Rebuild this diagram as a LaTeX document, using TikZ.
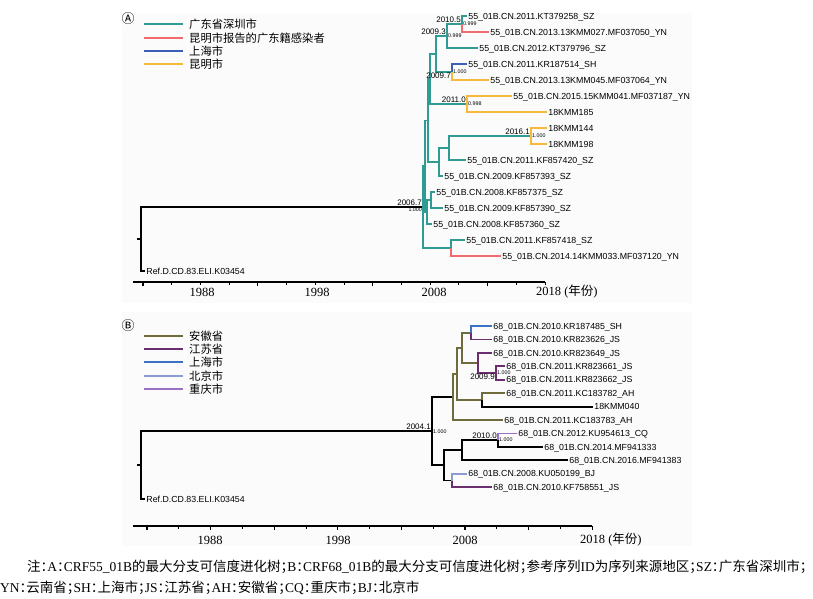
\documentclass[tikz,border=0pt]{standalone}
\usepackage{fontspec}
\setmainfont{Liberation Serif}
\setsansfont{Liberation Sans}
\newfontfamily\cjk{Noto Sans CJK SC}
\newfontfamily\cjkcap[RawFeature=+halt]{Noto Sans CJK SC}
\usetikzlibrary{positioning}
\newcommand{\zhtext}[1]{{\cjkcap #1}}
\definecolor{gdteal}{HTML}{2F9C94}
\definecolor{kmred}{HTML}{F06A6E}
\definecolor{shblue}{HTML}{3A5FB5}
\definecolor{kmyellow}{HTML}{F6B93B}
\definecolor{ahol}{HTML}{6E6B3C}
\definecolor{jspurple}{HTML}{6B2F6F}
\definecolor{shblueb}{HTML}{3C72C4}
\definecolor{bjlav}{HTML}{8E9BD2}
\definecolor{cqviolet}{HTML}{9A70C2}
\definecolor{panelbg}{HTML}{FBFBFB}
\tikzstyle{taxon}=[anchor=west,inner sep=1.2pt,text height=6.3pt,text depth=0pt,font=\fontsize{8.8}{9}\sffamily]
\tikzstyle{inner}=[coordinate]
\tikzstyle{branch}=[draw,line width=1.8pt]
\tikzstyle{date}=[inner sep=0pt,outer sep=1.2pt,font=\fontsize{8}{9}\sffamily]
\tikzstyle{prob}=[inner sep=0pt,outer sep=1.2pt,font=\fontsize{5.3}{6}\sffamily]
\tikzstyle{year}=[inner sep=0pt,font=\fontsize{12.5}{13}\selectfont]
\tikzstyle{legendtext}=[anchor=west,inner sep=0pt,font=\fontsize{11.3}{12}\cjk]
\tikzstyle{swatch}=[line width=2.6pt]
\tikzstyle{axis}=[line width=1.3pt]
\tikzstyle{note}=[anchor=west,inner sep=0pt,font=\fontsize{13.5}{14}\selectfont]

\begin{document}
\begin{tikzpicture}[x=1pt,y=-1pt]
    \useasboundingbox (0,0) rectangle (813,598);
    \fill[panelbg] (122,13) rectangle (692,303);
    \fill[panelbg] (122,312) rectangle (692,546);

    % Legends
    \node[font=\fontsize{13}{13}\cjk,inner sep=0pt] (markA) at (128,19) {Ⓐ};
    \foreach \y/\col/\txt [count=\i] in {24/gdteal/广东省深圳市, 38/kmred/昆明市报告的广东籍感染者, 51/shblue/上海市, 64/kmyellow/昆明市} {
        \node[legendtext] (keyA\i) at (189,\y) {\txt};
        \draw[swatch,\col] ([xshift=-6pt]keyA\i.west) -- ++(-39,0);
    }
    \node[font=\fontsize{13}{13}\cjk,inner sep=0pt] (markB) at (128,326) {Ⓑ};
    \foreach \y/\col/\txt [count=\i] in {336/ahol/安徽省, 349/jspurple/江苏省, 362/shblueb/上海市, 376/bjlav/北京市, 389/cqviolet/重庆市} {
        \node[legendtext] (keyB\i) at (189,\y) {\txt};
        \draw[swatch,\col] ([xshift=-6pt]keyB\i.west) -- ++(-39,0);
    }

    % Tree A: tips
    \foreach \name/\x/\y/\txt in {a1/467/16/55\_01B.CN.2011.KT379258\_SZ, a2/489/32/55\_01B.CN.2013.13KMM027.MF037050\_YN, a3/478/48/55\_01B.CN.2012.KT379796\_SZ, a4/467/64/55\_01B.CN.2011.KR187514\_SH, a5/489/80/55\_01B.CN.2013.13KMM045.MF037064\_YN, a6/512/96/55\_01B.CN.2015.15KMM041.MF037187\_YN, a7/547/112/18KMM185, a8/547/128/18KMM144, a9/547/144/18KMM198, a10/466/160/55\_01B.CN.2011.KF857420\_SZ, a11/443/176/55\_01B.CN.2009.KF857393\_SZ, a12/435/192/55\_01B.CN.2008.KF857375\_SZ, a13/443/208/55\_01B.CN.2009.KF857390\_SZ, a14/432/224/55\_01B.CN.2008.KF857360\_SZ, a15/465/240/55\_01B.CN.2011.KF857418\_SZ, a16/501/256/55\_01B.CN.2014.14KMM033.MF037120\_YN, refA/145/271/Ref.D.CD.83.ELI.K03454}
        \node[taxon] (\name) at (\x,\y) {\txt};

    % Tree A: inner nodes
    \foreach \pos/\name in {{(141,239)/rootA}, {(423,207)/r0}, {(462,24)/n1}, {(447,36)/n2}, {(452,72)/n3}, {(436,54)/n4}, {(467,104)/n5}, {(430,79)/n6}, {(531,136)/n7}, {(449,148)/n8}, {(439,162)/n9}, {(428,120.5)/n10}, {(431,200)/n11}, {(425,166)/n12}, {(427,212)/n13}, {(451,248)/n14}}
        \node[inner] (\name) at \pos {};

    % Tree A: branches
    \foreach \source/\dest/\col in {rootA/r0/black, rootA/refA.west/black, r0/n12/gdteal, r0/n14/gdteal, n12/n10/gdteal, n12/n13/gdteal, n10/n6/gdteal, n10/n9/gdteal, n6/n4/gdteal, n6/n5/gdteal, n4/n2/gdteal, n4/n3/gdteal, n2/n1/gdteal, n2/a3.west/gdteal, n1/a1.west/gdteal, n1/a2.west/kmred, n3/a4.west/shblue, n3/a5.west/kmyellow, n5/a6.west/kmyellow, n5/a7.west/kmyellow, n9/n8/gdteal, n9/a11.west/gdteal, n8/n7/gdteal, n8/a10.west/gdteal, n7/a8.west/kmyellow, n7/a9.west/kmyellow, n13/n11/gdteal, n13/a14.west/gdteal, n11/a12.west/gdteal, n11/a13.west/gdteal, n14/a15.west/gdteal, n14/a16.west/kmred}
        \path[branch,draw=\col] (\source) |- (\dest);
    \path[branch] (rootA) -- ++(-4,0);

    % Tree A: dates and posteriors
    \foreach \at/\yr/\side/\pp/\pside in {n1/2010.5/south east/0.999/west, n2/2009.3/south east/0.999/west, n3/2009.7/north east/1.000/west, n5/2011.0/south east/0.998/west, n7/2016.1/south east/1.000/west, r0/2006.7/south east/1.000/north east} {
        \node[date,anchor=\side] (yr\at) at (\at) {\yr};
        \node[prob,anchor=\pside] (pp\at) at (\at) {\pp};
    }

    % Tree B: tips
    \foreach \name/\x/\y/\txt in {b1/492/326/68\_01B.CN.2010.KR187485\_SH, b2/492/339.4/68\_01B.CN.2010.KR823626\_JS, b3/492/352.9/68\_01B.CN.2010.KR823649\_JS, b4/505/366.3/68\_01B.CN.2011.KR823661\_JS, b5/505/379.7/68\_01B.CN.2011.KR823662\_JS, b6/505/393.2/68\_01B.CN.2011.KC183782\_AH, b7/593/406.6/18KMM040, b8/503/420/68\_01B.CN.2011.KC183783\_AH, b9/517/433.4/68\_01B.CN.2012.KU954613\_CQ, b10/543/446.9/68\_01B.CN.2014.MF941333, b11/568/460.3/68\_01B.CN.2016.MF941383, b12/467/473.7/68\_01B.CN.2008.KU050199\_BJ, b13/492/487.2/68\_01B.CN.2010.KF758551\_JS, refB/145/499/Ref.D.CD.83.ELI.K03454}
        \node[taxon] (\name) at (\x,\y) {\txt};

    % Tree B: inner nodes
    \foreach \pos/\name in {{(141,465)/rootB}, {(432,431.2)/q0}, {(471,332.7)/p1}, {(478,363)/p2}, {(496,373)/p3}, {(462,347.9)/p4}, {(482,399.9)/p5}, {(457,373.9)/p6}, {(453,397)/p7}, {(462,450.2)/p9}, {(498,440.1)/p10}, {(444,465.3)/p11}, {(452,480.5)/p12}}
        \node[inner] (\name) at \pos {};

    % Tree B: branches
    \foreach \source/\dest/\col in {rootB/q0/black, rootB/refB.west/black, q0/p7/black, q0/p11/black, p7/p6/ahol, p7/b8.west/ahol, p6/p4/ahol, p6/p5/ahol, p4/p1/ahol, p4/p2/ahol, p1/b1.west/shblueb, p1/b2.west/jspurple, p2/b3.west/jspurple, p2/p3/jspurple, p3/b4.west/jspurple, p3/b5.west/jspurple, p5/b6.west/ahol, p5/b7.west/black, p11/p9/black, p11/p12/black, p9/p10/black, p9/b11.west/black, p10/b9.west/cqviolet, p10/b10.west/black, p12/b12.west/bjlav, p12/b13.west/jspurple}
        \path[branch,draw=\col] (\source) |- (\dest);
    \path[branch] (rootB) -- ++(-4,0);

    % Tree B: dates and posteriors
    \foreach \at/\yr/\side/\pp/\pside in {q0/2004.1/south east/1.000/west, p3/2009.9/north east/1.000/west, p10/2010.0/south east/1.000/west} {
        \node[date,anchor=\side] (yr\at) at (\at) {\yr};
        \node[prob,anchor=\pside] (pp\at) at (\at) {\pp};
    }

    % Time axes
    \coordinate (axA0) at (133,282);
    \coordinate (axA1) at (545,282);
    \draw[axis] (axA0) -- (axA1);
    \foreach \i [evaluate=\i as \tx using 143+28.72*\i] in {0,...,14}
        \draw[line width=0.9pt] (\tx,282) -- ++(0,2.5);
    \foreach \i [evaluate=\i as \tx using 143+114.88*\i] in {0,...,3}
        \draw[line width=1.1pt] (\tx,282) -- ++(0,4);
    \foreach \x/\yr in {202/1988, 317/1998, 434/2008}
        \node[year] (yrA\yr) at (\x,292) {\yr};
    \node[year,anchor=west] (yrA2018) at (536,292) {2018 ({\cjk 年份})};

    \coordinate (axB0) at (133,526);
    \coordinate (axB1) at (592,526);
    \draw[axis] (axB0) -- (axB1);
    \foreach \i [evaluate=\i as \tx using 147+31.8*\i] in {0,...,14}
        \draw[line width=0.9pt] (\tx,526) -- ++(0,2.5);
    \foreach \i [evaluate=\i as \tx using 147+63.6*\i] in {0,...,7}
        \draw[line width=1.1pt] (\tx,526) -- ++(0,4);
    \foreach \x/\yr in {210/1988, 338/1998, 465/2008}
        \node[year] (yrB\yr) at (\x,540) {\yr};
    \node[year,anchor=west] (yrB2018) at (580,540) {2018 ({\cjk 年份})};

    % Note
    \node[note] (noteA) at (27,567) {\zhtext{注：}A\zhtext{：}CRF55\_01B\zhtext{的最大分支可信度进化树；}B\zhtext{：}CRF68\_01B\zhtext{的最大分支可信度进化树；参考序列}ID\zhtext{为序列来源地区；}SZ\zhtext{：广东省深圳市；}};
    \node[note] (noteB) at (0,588) {YN\zhtext{：云南省；}SH\zhtext{：上海市；}JS\zhtext{：江苏省；}AH\zhtext{：安徽省；}CQ\zhtext{：重庆市；}BJ\zhtext{：北京市}};
\end{tikzpicture}
\end{document}
